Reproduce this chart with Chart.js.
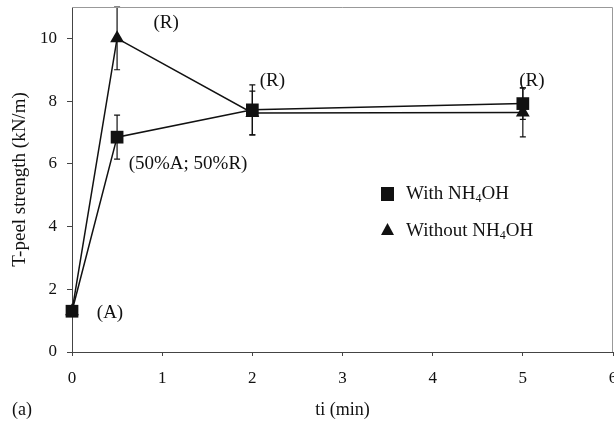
<!DOCTYPE html>
<html>
<head>
<meta charset="utf-8">
<script src="https://cdn.jsdelivr.net/npm/chart.js@4"></script>
<style>
  html, body { margin: 0; padding: 0; background: #fff; overflow: hidden; }
  #wrap { width: 614px; height: 427px; }
</style>
</head>
<body>
<div id="wrap"><canvas id="peel"></canvas></div>
<script>
'use strict';

// ti (min) and T-peel strength (kN/m)
const times = [0, 0.5, 2, 5];
const withNH4OH = [1.3, 6.85, 7.72, 7.92];
const withNH4OHErr = [0, 0.7, 0.8, 0.5];
const withoutNH4OH = [1.3, 10, 7.62, 7.64];
const withoutNH4OHErr = [0, 1, 0.7, 0.78];
const xTicks = [0, 1, 2, 3, 4, 5, 6];
const yTicks = [0, 2, 4, 6, 8, 10];

// failure mode notes, anchored to a point and nudged in pixels
const notes = [
  { text: '(R)', x: 0.5, y: 10, dx: 49, dy: -15 },
  { text: '(R)', x: 2, y: 7.72, dx: 20, dy: -29 },
  { text: '(R)', x: 5, y: 7.92, dx: 9, dy: -23 },
  { text: '(50%A; 50%R)', x: 0.5, y: 6.85, dx: 71, dy: 27 },
  { text: '(A)', x: 0, y: 1.3, dx: 38, dy: 2 },
];

const serif = '"Liberation Serif", "Times New Roman", serif';
const ink = '#111';

const toPoints = (ys) => times.map((t, i) => ({ x: t, y: ys[i] }));

const drawSub = (ctx, parts, x, y, size) => {
  // parts: [normal, subscript, normal]
  let cx = x;
  parts.forEach((p, i) => {
    const sub = i % 2 === 1;
    ctx.font = `${sub ? Math.round(size * 0.62) : size}px ${serif}`;
    ctx.fillText(p, cx, sub ? y + size * 0.28 : y);
    cx += ctx.measureText(p).width;
  });
};

const errorBars = {
  id: 'errorBars',
  beforeDatasetsDraw(chart) {
    const { ctx, scales: { x, y } } = chart;
    const sets = [[withNH4OH, withNH4OHErr], [withoutNH4OH, withoutNH4OHErr]];
    ctx.save();
    ctx.strokeStyle = ink;
    ctx.lineWidth = 1.2;
    sets.forEach(([vals, errs]) => {
      times.forEach((t, i) => {
        if (!errs[i]) return;
        const px = x.getPixelForValue(t);
        const hi = y.getPixelForValue(vals[i] + errs[i]);
        const lo = y.getPixelForValue(vals[i] - errs[i]);
        ctx.beginPath();
        ctx.moveTo(px, hi); ctx.lineTo(px, lo);
        ctx.moveTo(px - 3, hi); ctx.lineTo(px + 3, hi);
        ctx.moveTo(px - 3, lo); ctx.lineTo(px + 3, lo);
        ctx.stroke();
      });
    });
    ctx.restore();
  },
};

const decorations = {
  id: 'decorations',
  afterDraw(chart) {
    const { ctx, chartArea: a, scales: { x, y } } = chart;
    ctx.save();

    // thin frame on the top and right
    ctx.strokeStyle = '#999';
    ctx.lineWidth = 1;
    ctx.beginPath();
    ctx.moveTo(a.left, a.top + 0.5);
    ctx.lineTo(a.right - 0.5, a.top + 0.5);
    ctx.lineTo(a.right - 0.5, a.bottom);
    ctx.stroke();

    ctx.fillStyle = ink;
    ctx.textAlign = 'center';
    ctx.textBaseline = 'middle';
    ctx.font = `19px ${serif}`;
    notes.forEach(n => {
      ctx.fillText(n.text, x.getPixelForValue(n.x) + n.dx, y.getPixelForValue(n.y) + n.dy);
    });
    ctx.font = `18px ${serif}`;
    ctx.fillText('(a)', 22, 410);

    // legend
    ctx.fillRect(381, 187, 13, 14);
    ctx.beginPath();
    ctx.moveTo(387.5, 223);
    ctx.lineTo(394, 235);
    ctx.lineTo(381, 235);
    ctx.closePath();
    ctx.fill();
    ctx.textAlign = 'left';
    drawSub(ctx, ['With NH', '4', 'OH'], 406, 194, 19);
    drawSub(ctx, ['Without NH', '4', 'OH'], 406, 231, 19);

    ctx.restore();
  },
};

new Chart(document.getElementById('peel'), {
  type: 'scatter',
  data: {
    datasets: [
      {
        label: 'With NH4OH',
        data: toPoints(withNH4OH),
        showLine: true,
        clip: false,
        borderColor: ink,
        backgroundColor: ink,
        borderWidth: 1.5,
        pointStyle: 'rect',
        pointRadius: 9,
        pointBorderWidth: 0,
      },
      {
        label: 'Without NH4OH',
        data: toPoints(withoutNH4OH),
        showLine: true,
        clip: false,
        borderColor: ink,
        backgroundColor: ink,
        borderWidth: 1.5,
        pointStyle: 'triangle',
        pointRadius: 8,
        pointBorderWidth: 0,
      },
    ],
  },
  options: {
    responsive: true,
    maintainAspectRatio: false,
    animation: false,
    layout: { autoPadding: false, padding: { top: 7, right: 1, left: 0, bottom: 0 } },
    plugins: {
      legend: { display: false },
      tooltip: { enabled: false },
    },
    scales: {
      x: {
        type: 'linear',
        min: 0,
        max: 6,
        afterBuildTicks: s => { s.ticks = xTicks.map(v => ({ value: v })); },
        afterFit: s => { s.height = 75; s.paddingLeft = 0; s.paddingRight = 0; },
        border: { color: '#444', width: 1 },
        grid: { drawOnChartArea: false, tickLength: 4, color: '#444' },
        ticks: { color: ink, padding: 12, font: { family: serif, size: 17 } },
        title: {
          display: true,
          text: 'ti (min)',
          color: ink,
          font: { family: serif, size: 18 },
          padding: { top: 0, bottom: 6 },
        },
      },
      y: {
        type: 'linear',
        min: 0,
        max: 11,
        afterBuildTicks: s => { s.ticks = yTicks.map(v => ({ value: v })); },
        afterFit: s => { s.width = 72; s.paddingTop = 0; s.paddingBottom = 0; },
        border: { color: '#444', width: 1 },
        grid: { drawOnChartArea: false, tickLength: 5, color: '#444' },
        ticks: { color: ink, padding: 10, font: { family: serif, size: 17 } },
        title: {
          display: true,
          text: 'T-peel strength (kN/m)',
          color: ink,
          font: { family: serif, size: 19 },
          padding: { top: 9, bottom: 0 },
        },
      },
    },
  },
  plugins: [errorBars, decorations],
});
</script>
</body>
</html>
